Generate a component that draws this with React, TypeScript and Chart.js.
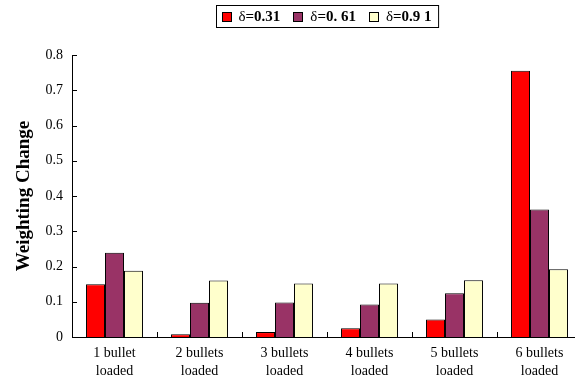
import React, { useEffect, useRef } from "react";
import { Chart, registerables } from "chart.js";

Chart.register(...registerables);

const categories: string[][] = [
  ["1 bullet", "loaded"],
  ["2 bullets", "loaded"],
  ["3 bullets", "loaded"],
  ["4 bullets", "loaded"],
  ["5 bullets", "loaded"],
  ["6 bullets", "loaded"],
];
const seriesLabels = ["δ=0.31", "δ=0. 61", "δ=0.9 1"];
const delta031 = [0.15, 0.008, 0.014, 0.025, 0.05, 0.755];
const delta061 = [0.239, 0.097, 0.098, 0.092, 0.124, 0.362];
const delta091 = [0.188, 0.16, 0.152, 0.152, 0.161, 0.192];
const seriesColors = ["#FF0000", "#993366", "#FFFFCC"];
const yTicks = [0, 0.1, 0.2, 0.3, 0.4, 0.5, 0.6, 0.7, 0.8];

const SERIF = "'Liberation Serif', 'Times New Roman', serif";

const decorPlugin = {
  id: "decor",
  afterDraw(chart: any) {
    const ctx = chart.ctx as CanvasRenderingContext2D;
    const area = chart.chartArea;
    const x = chart.scales.x;
    const y = chart.scales.y;
    ctx.save();
    ctx.strokeStyle = "#000";
    ctx.lineWidth = 1;
    // y ticks inward
    yTicks.forEach((v) => {
      const py = Math.round(y.getPixelForValue(v)) + 0.5;
      ctx.beginPath();
      ctx.moveTo(area.left, py);
      ctx.lineTo(area.left + 5, py);
      ctx.stroke();
    });
    // x boundary ticks inward
    for (let i = 1; i < categories.length; i++) {
      const px = Math.round((x.getPixelForTick(i - 1) + x.getPixelForTick(i)) / 2) + 0.5;
      ctx.beginPath();
      ctx.moveTo(px, area.bottom);
      ctx.lineTo(px, area.bottom - 5);
      ctx.stroke();
    }
    // legend
    const sq = 10;
    const gapSq = 7;
    const gapItem = 13;
    const padL = 5;
    const padR = 7;
    const normal = `15px ${SERIF}`;
    const bold = `bold 15px ${SERIF}`;
    const widths = seriesLabels.map((l) => {
      ctx.font = normal;
      const a = ctx.measureText(l.charAt(0)).width;
      ctx.font = bold;
      const b = ctx.measureText(l.slice(1)).width;
      return a + b;
    });
    const total =
      padL + padR + widths.reduce((s, w) => s + sq + gapSq + w, 0) + gapItem * (seriesLabels.length - 1);
    const cx = (area.left + area.right) / 2;
    const left = Math.round(cx - total / 2) + 0.5;
    const top = 5.5;
    const h = 22;
    ctx.strokeRect(left, top, total, h);
    let cur = left + padL;
    const midY = top + h / 2;
    ctx.textBaseline = "middle";
    ctx.textAlign = "left";
    seriesLabels.forEach((l, i) => {
      ctx.fillStyle = seriesColors[i];
      ctx.fillRect(Math.round(cur), Math.round(midY - sq / 2), sq, sq);
      ctx.strokeRect(Math.round(cur) + 0.5, Math.round(midY - sq / 2) + 0.5, sq - 1, sq - 1);
      cur += sq + gapSq;
      ctx.fillStyle = "#000";
      ctx.font = normal;
      ctx.fillText(l.charAt(0), cur, midY + 1);
      const a = ctx.measureText(l.charAt(0)).width;
      ctx.font = bold;
      ctx.fillText(l.slice(1), cur + a, midY + 1);
      cur += widths[i] + gapItem;
    });
    ctx.restore();
  },
};

export default function App() {
  const ref = useRef<HTMLCanvasElement>(null);
  useEffect(() => {
    if (!ref.current) return;
    const chart = new Chart(ref.current, {
      type: "bar",
      data: {
        labels: categories,
        datasets: [delta031, delta061, delta091].map((d, i) => ({
          label: seriesLabels[i],
          data: d,
          backgroundColor: seriesColors[i],
          borderColor: "#000",
          borderWidth: 1,
          categoryPercentage: 0.67,
          barPercentage: 1,
        })),
      },
      options: {
        responsive: false,
        animation: false,
        devicePixelRatio: 1,
        layout: { padding: { top: 55, right: 8, left: 0, bottom: 0 } },
        plugins: { legend: { display: false }, tooltip: { enabled: false } },
        scales: {
          x: {
            grid: { display: false, drawTicks: false },
            border: { display: true, color: "#000", width: 1 },
            ticks: {
              color: "#000",
              font: { family: SERIF, size: 14, lineHeight: 1.3 },
              padding: 7,
              maxRotation: 0,
              autoSkip: false,
            },
            afterFit(scale: any) {
              scale.height = 42;
            },
          },
          y: {
            min: 0,
            max: 0.8,
            grid: { display: false, drawTicks: false },
            border: { display: true, color: "#000", width: 1 },
            afterBuildTicks(scale: any) {
              scale.ticks = yTicks.map((v) => ({ value: v }));
            },
            ticks: {
              color: "#000",
              font: { family: SERIF, size: 14 },
              padding: 9,
              callback: (v: any) => String(v),
            },
            title: {
              display: true,
              text: "Weighting Change",
              color: "#000",
              font: { family: SERIF, size: 19, weight: "bold" },
              padding: { top: 13, bottom: 0 },
            },
            afterFit(scale: any) {
              scale.width = 72;
            },
          },
        },
      },
      plugins: [decorPlugin],
    });
    return () => chart.destroy();
  }, []);
  return (
    <div style={{ position: "fixed", left: 0, top: 0, width: 590, height: 379, background: "#fff" }}>
      <canvas ref={ref} width={590} height={379} style={{ width: 590, height: 379, display: "block" }} />
    </div>
  );
}
